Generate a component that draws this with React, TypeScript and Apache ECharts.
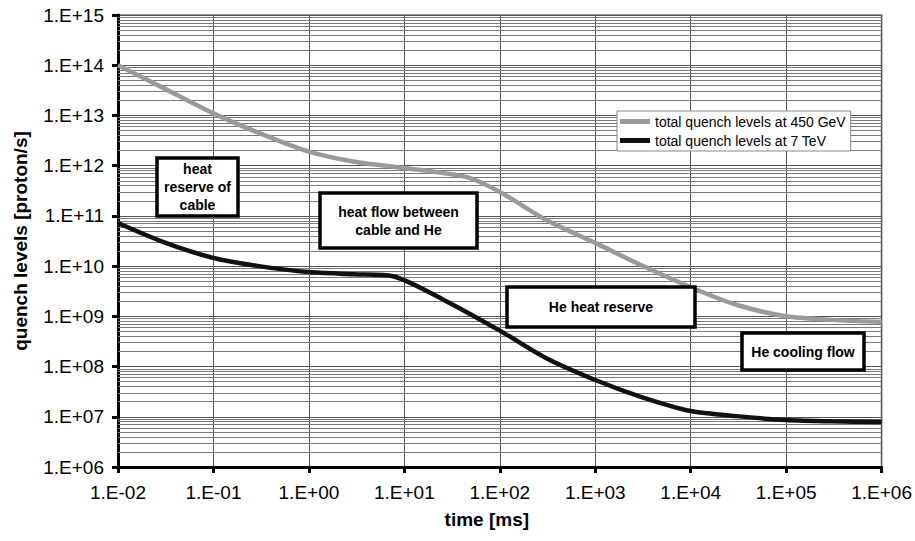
import React, { useEffect, useRef } from "react";
import * as echarts from "echarts";

// time [ms]
const timeLow = [0.01, 0.03, 0.1, 0.307, 1, 3, 10, 45, 100, 300, 1000, 3000, 10000, 30000, 100000, 300000, 1000000];
// total quench levels at 450 GeV [proton/s]
const q450 = [1.0e14, 3.5e13, 1.1e13, 4.4e12, 1.9e12, 1.2e12, 9.0e11, 5.9e11, 3.0e11, 8.5e10, 2.9e10, 1.05e10, 3.8e9, 1.7e9, 1.0e9, 8.5e8, 7.7e8];

const timeHigh = [0.01, 0.03, 0.1, 0.3, 1, 3, 7.6, 25, 100, 300, 1000, 3000, 10000, 30000, 100000, 300000, 1000000];
// total quench levels at 7 TeV [proton/s]
const q7 = [7.2e10, 3.0e10, 1.45e10, 1.0e10, 7.6e9, 6.9e9, 6.3e9, 2.2e9, 5.2e8, 1.5e8, 5.4e7, 2.5e7, 1.3e7, 1.03e7, 8.6e6, 8.1e6, 7.9e6];

const seriesNames = ["total quench levels at 450 GeV", "total quench levels at 7 TeV"];

const yDecades = [6, 7, 8, 9, 10, 11, 12, 13, 14];
const minorMultipliers = [2, 3, 4, 5, 6, 7, 8, 9];

const annotations = [
  { text: "heat\nreserve of\ncable", box: [157, 158, 81, 58] },
  { text: "heat flow between\ncable and He", box: [320, 193, 157, 55] },
  { text: "He heat reserve", box: [507, 287, 188, 40] },
  { text: "He cooling flow", box: [742, 333, 122, 37] },
];

const FONT = "'Liberation Sans', Arial, Helvetica, sans-serif";

function fmt(v: number) {
  const e = Math.round(Math.log10(v));
  const s = e < 0 ? "-" : "+";
  return "1.E" + s + String(Math.abs(e)).padStart(2, "0");
}

export default function App() {
  const ref = useRef<HTMLDivElement>(null);
  useEffect(() => {
    if (!ref.current) return;
    const chart = echarts.init(ref.current, null, { renderer: "svg" });
    const minorLines: any[] = [];
    yDecades.forEach((d) =>
      minorMultipliers.forEach((m) => minorLines.push({ yAxis: m * Math.pow(10, d) }))
    );
    const graphics: any[] = [];
    annotations.forEach((a) => {
      const [x, y, w, h] = a.box;
      graphics.push({
        type: "rect",
        z: 100,
        shape: { x, y, width: w, height: h },
        style: { fill: "#fff", stroke: "#000", lineWidth: 3.5 },
      });
      graphics.push({
        type: "text",
        z: 101,
        x: x + w / 2,
        y: y + h / 2,
        style: {
          text: a.text,
          fill: "#000",
          font: `bold 14px ${FONT}`,
          align: "center",
          verticalAlign: "middle",
          lineHeight: 18,
        },
      });
    });
    chart.setOption({
      animation: false,
      textStyle: { fontFamily: FONT },
      grid: {
        left: 118,
        right: 33,
        top: 15,
        bottom: 74,
        show: true,
        borderColor: "#9a9a9a",
        borderWidth: 2,
        backgroundColor: "transparent",
      },
      legend: {
        left: 617,
        top: 111,
        orient: "vertical",
        data: seriesNames,
        icon: "rect",
        itemWidth: 30,
        itemHeight: 5,
        itemGap: 4,
        padding: [3, 5, 3, 3],
        backgroundColor: "#fff",
        borderColor: "#888",
        borderWidth: 1,
        textStyle: { fontSize: 14, color: "#000", fontFamily: FONT, lineHeight: 15 },
      },
      xAxis: {
        type: "log",
        logBase: 10,
        min: 0.01,
        max: 1e6,
        splitNumber: 8,
        name: "time [ms]",
        nameLocation: "middle",
        nameGap: 43,
        nameTextStyle: { fontSize: 19, fontWeight: "bold", color: "#000", fontFamily: FONT, padding: [0, 26, 0, 0] },
        axisLine: { show: true, lineStyle: { color: "#000", width: 3 } },
        axisTick: { show: true, inside: false, length: 6, lineStyle: { color: "#000", width: 3 } },
        axisLabel: { formatter: fmt, fontSize: 19, color: "#000", margin: 16, fontFamily: FONT },
        splitLine: { show: true, lineStyle: { color: "#555", width: 1 } },
      },
      yAxis: {
        type: "log",
        logBase: 10,
        min: 1e6,
        max: 1e15,
        splitNumber: 9,
        name: "quench levels [proton/s]",
        nameLocation: "middle",
        nameGap: 88,
        nameTextStyle: { fontSize: 19, fontWeight: "bold", color: "#000", fontFamily: FONT },
        axisLine: { show: true, lineStyle: { color: "#000", width: 3 } },
        axisTick: { show: true, inside: false, length: 6, lineStyle: { color: "#000", width: 3 } },
        axisLabel: { formatter: fmt, fontSize: 19, color: "#000", margin: 14, fontFamily: FONT },
        splitLine: { show: true, lineStyle: { color: "#555", width: 1 } },
      },
      series: [
        {
          name: seriesNames[0],
          type: "line",
          data: timeLow.map((t, i) => [t, q450[i]]),
          symbol: "none",
          smooth: 0.25,
          z: 5,
          lineStyle: { color: "#9a9a9a", width: 4.5 },
          itemStyle: { color: "#9a9a9a" },
          markLine: {
            silent: true,
            symbol: "none",
            label: { show: false },
            lineStyle: { color: "#7a7a7a", width: 1, type: "solid" },
            data: minorLines,
            z: 1,
          },
        },
        {
          name: seriesNames[1],
          type: "line",
          data: timeHigh.map((t, i) => [t, q7[i]]),
          symbol: "none",
          smooth: 0.25,
          z: 6,
          lineStyle: { color: "#111", width: 4.5 },
          itemStyle: { color: "#111" },
        },
      ],
      graphic: graphics,
    });
    return () => chart.dispose();
  }, []);
  return <div ref={ref} style={{ width: 915, height: 541, position: "absolute", left: 0, top: 0 }} />;
}
